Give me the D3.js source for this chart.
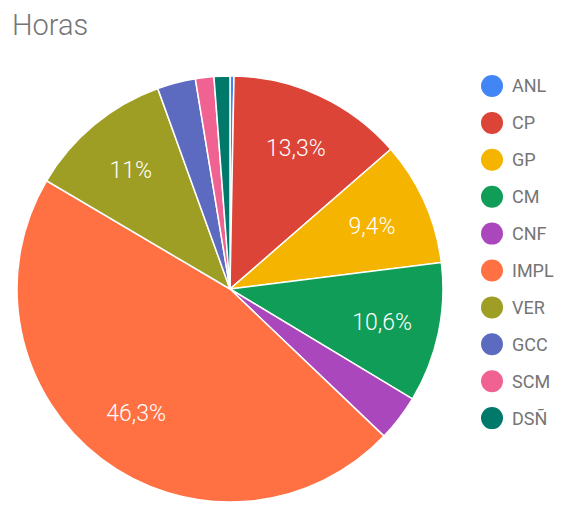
<html>
<head>
<script src="https://d3js.org/d3.v7.min.js"></script>
<style>
  body { margin: 0; background: #fff; }
  text { font-family: Roboto, Arial, sans-serif; }
</style>
</head>
<body>
<script>
const categories = ["ANL", "CP", "GP", "CM", "CNF", "IMPL", "VER", "GCC", "SCM", "DSÑ"];
const values = [0.3, 13.3, 9.4, 10.6, 3.5, 46.3, 11.0, 2.9, 1.4, 1.2];
const colors = ["#4285F4", "#DB4437", "#F4B400", "#0F9D58", "#AB47BC", "#FF7043", "#9E9D24", "#5C6BC0", "#F06292", "#00796B"];
const title = "Horas";

const w = 567, h = 506;
const cx = 230, cy = 289, r = 213;

const svg = d3.select("body").append("svg")
    .attr("width", w)
    .attr("height", h);

svg.append("text")
    .attr("x", 12)
    .attr("y", 35)
    .attr("fill", "#757575")
    .style("font-size", "29px")
    .style("font-weight", 300)
    .text(title);

const data = categories.map((c, i) => ({ name: c, value: values[i], color: colors[i] }));
const total = d3.sum(values);

const pie = d3.pie().sort(null).value(d => d.value);
const arc = d3.arc().innerRadius(0).outerRadius(r);
const labelArc = d3.arc().innerRadius(r * 0.73).outerRadius(r * 0.73);

const g = svg.append("g").attr("transform", `translate(${cx},${cy})`);
const arcs = pie(data);

g.selectAll("path")
    .data(arcs)
    .enter()
    .append("path")
    .attr("d", arc)
    .attr("fill", d => d.data.color)
    .attr("stroke", "#fff")
    .attr("stroke-width", 1.5);

const fmt = v => d3.format(".1f")(v).replace(/\.0$/, "").replace(".", ",") + "%";

g.selectAll("text.lbl")
    .data(arcs.filter(d => d.data.value / total >= 0.05))
    .enter()
    .append("text")
    .attr("class", "lbl")
    .attr("transform", d => `translate(${labelArc.centroid(d)})`)
    .attr("text-anchor", "middle")
    .attr("dy", "0.36em")
    .attr("fill", "#fff")
    .style("font-size", "23px")
    .style("font-weight", 300)
    .text(d => fmt(d.data.value / total * 100));

const legend = svg.append("g").attr("transform", "translate(492,86)");
const rows = legend.selectAll("g")
    .data(data)
    .enter()
    .append("g")
    .attr("transform", (d, i) => `translate(0,${i * 36.9})`);

rows.append("circle")
    .attr("r", 11)
    .attr("fill", d => d.color);

rows.append("text")
    .attr("x", 20)
    .attr("dy", "0.36em")
    .attr("fill", "#757575")
    .style("font-size", "18px")
    .text(d => d.name);
</script>
</body>
</html>
